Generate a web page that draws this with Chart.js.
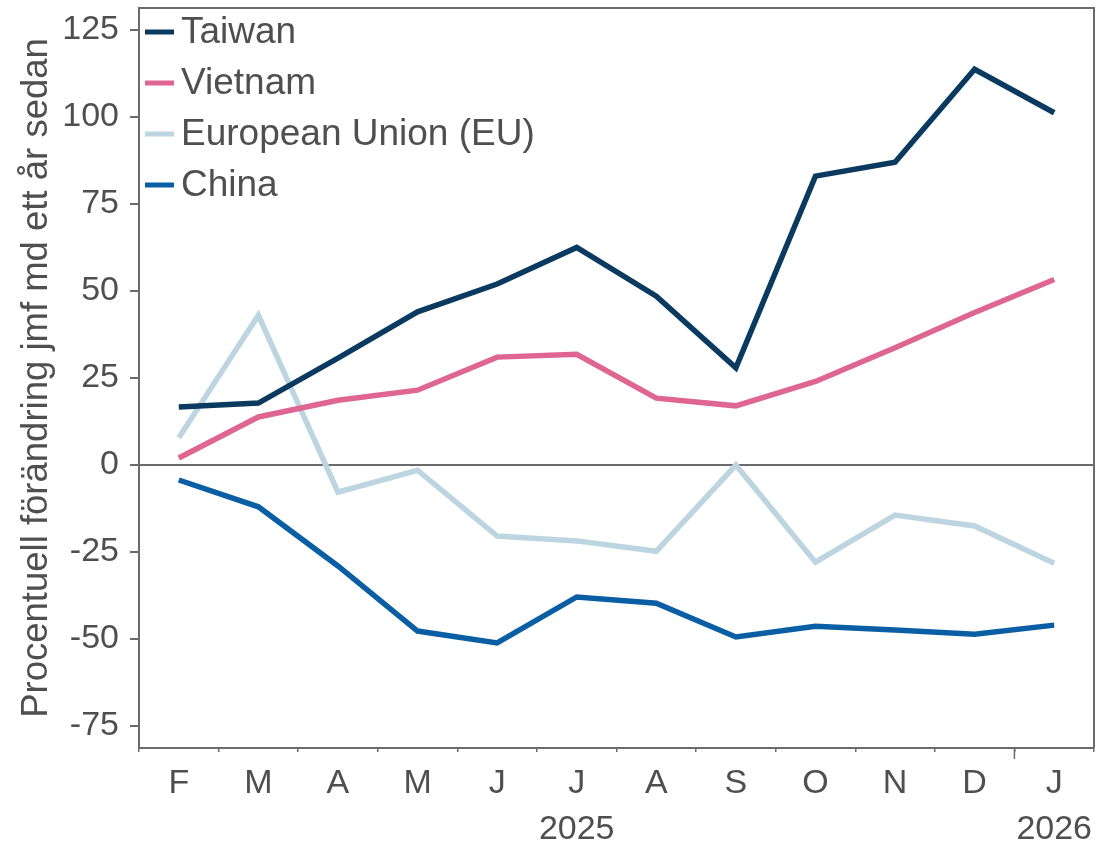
<!DOCTYPE html>
<html>
<head>
<meta charset="utf-8">
<script src="https://cdn.jsdelivr.net/npm/chart.js@4"></script>
<style>
  html, body { margin: 0; padding: 0; background: #fff; }
  #wrap { width: 1106px; height: 848px; }
</style>
</head>
<body>
<div id="wrap"><canvas id="chart" width="1106" height="848"></canvas></div>
<script>
// data
const months = ['F', 'M', 'A', 'M', 'J', 'J', 'A', 'S', 'O', 'N', 'D', 'J'];
const yearLabels = { 5: '2025', 11: '2026' };
const seriesNames = ['Taiwan', 'Vietnam', 'European Union (EU)', 'China'];
const taiwan  = [16.7, 17.8, 30.7, 44.0, 52.0, 62.5, 48.5, 27.9, 83.0, 87.0, 113.7, 101.2];
const vietnam = [2.0, 13.8, 18.6, 21.5, 31.0, 31.8, 19.2, 17.0, 24.0, 33.7, 43.8, 53.3];
const eu      = [7.8, 43.0, -7.8, -1.5, -20.4, -21.8, -24.8, 0.0, -27.9, -14.4, -17.5, -28.2];
const china   = [-4.3, -12.0, -29.0, -47.7, -51.1, -37.9, -39.7, -49.4, -46.3, -47.4, -48.6, -46.0];
const yTicks  = [-75, -50, -25, 0, 25, 50, 75, 100, 125];
const yTitle  = 'Procentuell förändring jmf md ett år sedan';

const colors = ['#0a3a60', '#de6690', '#bcd5e1', '#0a5fa4'];
const textColor = '#4f4f4f';
const axisColor = '#6b6b6b';
const fontFamily = '"Liberation Sans", Arial, sans-serif';

const labels = months.map((m, i) => yearLabels[i] ? [m, yearLabels[i]] : m);

// frame, year tick and in-plot legend
const extras = {
  id: 'extras',
  afterDraw(chart) {
    const ctx = chart.ctx;
    const a = chart.chartArea;
    const x = chart.scales.x;
    ctx.save();
    ctx.strokeStyle = axisColor;
    ctx.lineWidth = 2;
    ctx.beginPath();
    ctx.moveTo(a.left, a.top);
    ctx.lineTo(a.right, a.top);
    ctx.lineTo(a.right, a.bottom);
    ctx.stroke();

    // longer tick between D and J (year boundary)
    const bx = (x.getPixelForValue(10) + x.getPixelForValue(11)) / 2;
    ctx.lineWidth = 1.5;
    ctx.beginPath();
    ctx.moveTo(bx, a.bottom);
    ctx.lineTo(bx, a.bottom + 11);
    ctx.stroke();

    ctx.font = '37px ' + fontFamily;
    ctx.textBaseline = 'middle';
    ctx.textAlign = 'left';
    chart.data.datasets.forEach((ds, i) => {
      const y = a.top + 24 + i * 51;
      ctx.strokeStyle = ds.borderColor;
      ctx.lineWidth = 5;
      ctx.beginPath();
      ctx.moveTo(a.left + 6, y);
      ctx.lineTo(a.left + 35, y);
      ctx.stroke();
      ctx.fillStyle = textColor;
      ctx.fillText(ds.label, a.left + 42, y + 1);
    });
    ctx.restore();
  }
};

const ctx = document.getElementById('chart').getContext('2d');
new Chart(ctx, {
  type: 'line',
  data: {
    labels: labels,
    datasets: [taiwan, vietnam, eu, china].map((d, i) => ({
      label: seriesNames[i],
      data: d,
      borderColor: colors[i],
      backgroundColor: colors[i],
      borderWidth: 5.5,
      pointRadius: 0,
      tension: 0,
      fill: false
    }))
  },
  options: {
    responsive: false,
    animation: false,
    layout: { padding: { top: 8, right: 12, left: 0, bottom: 0 } },
    plugins: {
      legend: { display: false },
      tooltip: { enabled: false }
    },
    scales: {
      x: {
        offset: true,
        grid: {
          offset: true,
          drawOnChartArea: false,
          color: axisColor,
          tickLength: 4,
          lineWidth: 1.5
        },
        border: { color: axisColor, width: 2 },
        ticks: {
          color: textColor,
          font: { family: fontFamily, size: 34, lineHeight: 1.35 },
          padding: 9,
          maxRotation: 0,
          autoSkip: false
        },
        afterFit(scale) { scale.height = 100; }
      },
      y: {
        min: -81.3,
        max: 131.3,
        afterBuildTicks(scale) { scale.ticks = yTicks.map(v => ({ value: v })); },
        grid: {
          color: c => (c.tick && c.tick.value === 0 ? axisColor : 'rgba(0,0,0,0)'),
          tickColor: axisColor,
          tickLength: 9,
          lineWidth: 2
        },
        border: { color: axisColor, width: 2 },
        ticks: {
          color: textColor,
          font: { family: fontFamily, size: 34 },
          padding: 11
        },
        title: {
          display: true,
          text: yTitle,
          color: textColor,
          font: { family: fontFamily, size: 36.5 },
          padding: { top: 15, bottom: 0 }
        },
        afterFit(scale) {
          scale.width = 139;
          scale.paddingTop = 0;
          scale.paddingBottom = 0;
        }
      }
    }
  },
  plugins: [extras]
});
</script>
</body>
</html>
